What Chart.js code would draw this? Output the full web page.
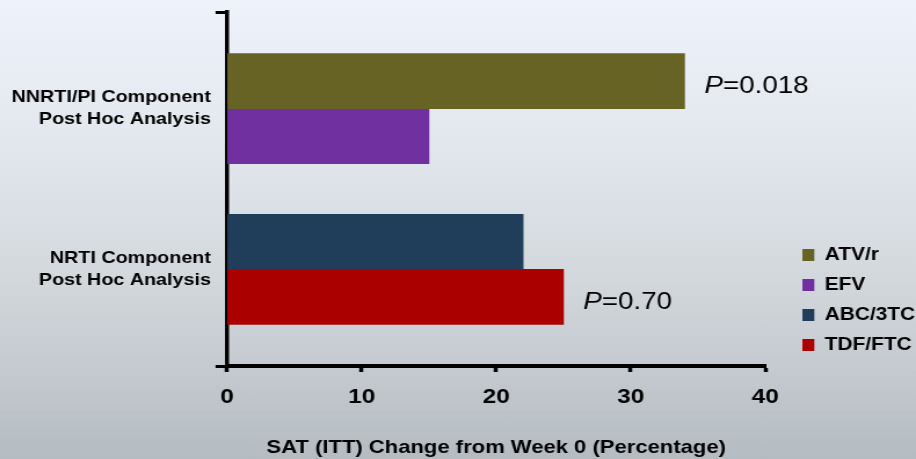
<!DOCTYPE html>
<html><head><meta charset="utf-8">
<script src="https://cdn.jsdelivr.net/npm/chart.js@4.4.0/dist/chart.umd.min.js"></script>
<style>
html,body{margin:0;padding:0;}
body{width:916px;height:459px;overflow:hidden;background:linear-gradient(180deg,#eef2fa 0%,#e3e8ef 30%,#d3d8dd 60%,#b5bcc1 100%);}
#c{position:absolute;left:0;top:0;transform:scaleX(1.1595);transform-origin:0 0;}
</style></head><body>
<canvas id="c" width="790" height="459"></canvas>
<script>
const categories = [['NNRTI/PI Component','Post Hoc Analysis'],['NRTI Component','Post Hoc Analysis']];
const seriesNames = ['ATV/r','EFV','ABC/3TC','TDF/FTC'];
const atvValues = [34, null];
const efvValues = [15, null];
const abcValues = [null, 22];
const tdfValues = [null, 25];
const xTicks = [0, 10, 20, 30, 40];
const pValueLabels = ['0.018', '0.70'];
const pValueSeries = [0, 3];

const seriesColors = ['#676324', '#7030a0', '#203d59', '#ab0000'];
const seriesValues = [atvValues, efvValues, abcValues, tdfValues];
const FONT = "'Liberation Sans', Arial, sans-serif";
const isCategoryTick = (v) => Number.isInteger(v) && v >= 0 && v < categories.length;

const pLabelPlugin = {
  id: 'pLabels',
  afterDatasetsDraw(chart) {
    const ctx = chart.ctx;
    ctx.save();
    ctx.fillStyle = '#000';
    ctx.textBaseline = 'middle';
    pValueLabels.forEach((txt, cat) => {
      const meta = chart.getDatasetMeta(pValueSeries[cat]);
      const bar = meta.data[cat];
      if (!bar) return;
      let x = bar.x + 17;
      const y = bar.y + 5;
      ctx.font = "italic 24px " + FONT;
      ctx.fillText('P', x, y);
      x += ctx.measureText('P').width;
      ctx.font = "24px " + FONT;
      ctx.fillText('=' + txt, x, y);
    });
    ctx.restore();
  }
};

new Chart(document.getElementById('c'), {
  type: 'bar',
  data: {
    datasets: seriesNames.map((name, s) => ({
      label: name,
      data: seriesValues[s].map((v, i) => ({x: v, y: i})),
      backgroundColor: seriesColors[s],
      borderWidth: 0,
      skipNull: true,
      barThickness: 55
    }))
  },
  options: {
    indexAxis: 'y',
    responsive: false,
    animation: false,
    layout: {padding: {left: 6.5, top: 12, right: 0, bottom: 0}},
    plugins: {
      tooltip: {enabled: false},
      legend: {
        position: 'right',
        align: 'end',
        fullSize: false,
        maxWidth: 110,
        labels: {
          boxWidth: 10.3, boxHeight: 12, padding: 12,
          color: '#000',
          font: {family: FONT, size: 18, weight: 'bold'}
        }
      }
    },
    scales: {
      x: {
        type: 'linear',
        bounds: 'data',
        min: xTicks[0], max: xTicks[xTicks.length - 1],
        afterBuildTicks: (scale) => { scale.ticks = xTicks.map(v => ({value: v})); },
        grid: {display: true, drawOnChartArea: false, drawTicks: true, tickLength: 6, tickWidth: 3.5, tickColor: '#000'},
        border: {display: true, color: '#000', width: 4},
        ticks: {color: '#000', padding: 13, font: {family: FONT, size: 21, weight: 'bold'}},
        title: {display: true, text: 'SAT (ITT) Change from Week 0 (Percentage)', color: '#000', padding: {top: 13, bottom: 0}, font: {family: FONT, size: 19, weight: 'bold'}}
      },
      y: {
        type: 'linear',
        bounds: 'data',
        grace: 0,
        offset: false,
        reverse: true,
        min: -0.6, max: 1.6,
        afterBuildTicks: (scale) => {
          scale.ticks = [scale.min, ...categories.map((c, i) => i), scale.max].map(v => ({value: v}));
        },
        afterFit: (s) => {
          const sizes = s._getLabelSizes();
          const need = sizes.widest.width + s.options.ticks.padding + s.options.grid.tickLength + s.options.border.width;
          s.width = Math.max(s.width, need);
        },
        grid: {display: true, offset: false, drawOnChartArea: false, drawTicks: true, tickLength: 10, tickWidth: 3,
          tickColor: (c) => (c.tick && isCategoryTick(c.tick.value)) ? 'rgba(0,0,0,0)' : '#000'},
        border: {display: true, color: '#000', width: 3.5},
        ticks: {
          autoSkip: false,
          padding: 4,
          color: '#000',
          font: (c) => ({family: FONT, size: 17, weight: 'bold',
            lineHeight: (c.tick && isCategoryTick(c.tick.value)) ? 1.3 : 0.3}),
          callback: (v) => isCategoryTick(v) ? categories[v] : ''
        }
      },
      gap: {
        type: 'linear',
        position: 'right',
        display: true,
        grid: {display: false},
        border: {display: false},
        ticks: {display: false},
        afterFit: (scale) => { scale.width = 20; }
      }
    }
  },
  plugins: [pLabelPlugin]
});
</script>
</body></html>
